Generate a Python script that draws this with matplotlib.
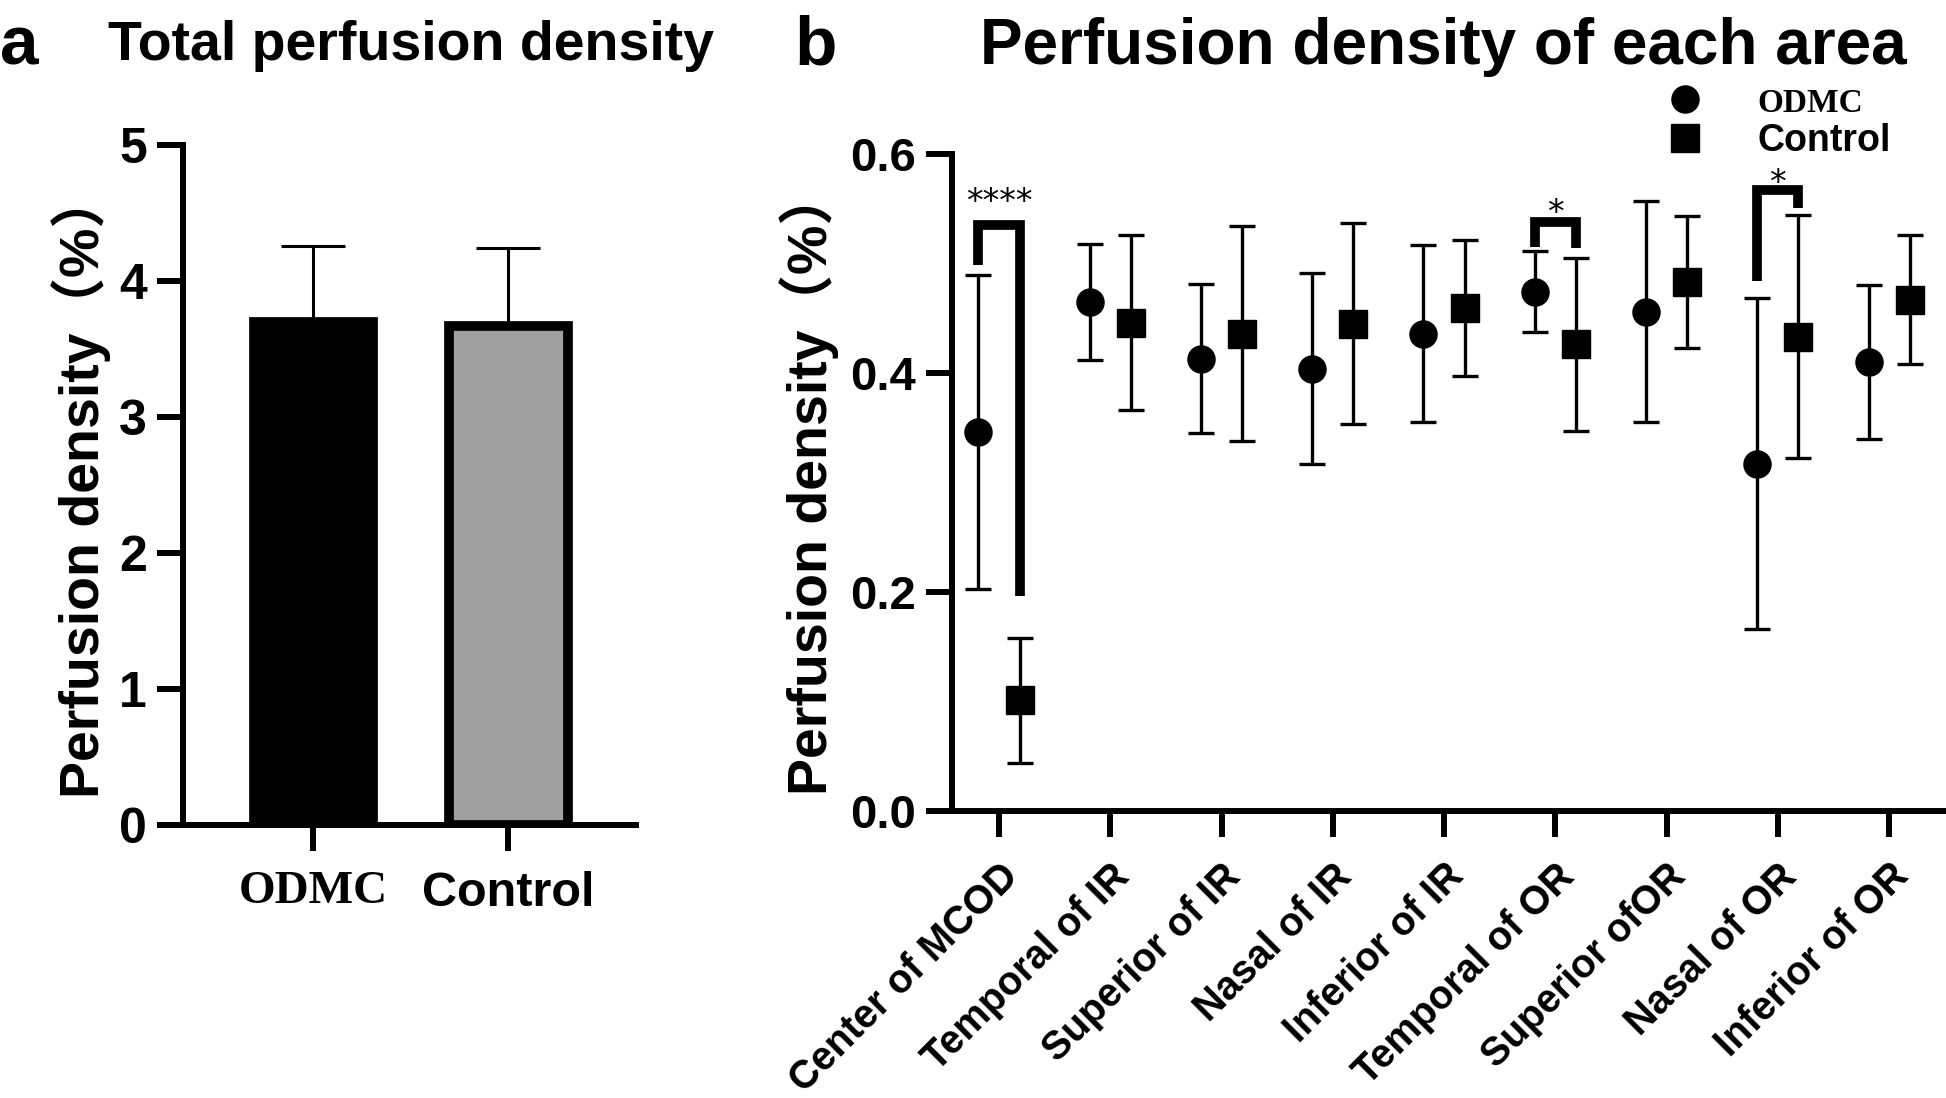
import numpy as np
import matplotlib
matplotlib.use('Agg')
import matplotlib.pyplot as plt
from matplotlib.lines import Line2D

plt.rcParams['font.family'] = ['Liberation Sans', 'Noto Sans CJK SC', 'DejaVu Sans']

# panel a: total perfusion density
groups = ['ODMC', 'Control']
total_mean = [3.70, 3.67]
total_sd = [0.56, 0.57]
bar_colors = ['#000000', '#a0a0a0']

# panel b: perfusion density of each area
areas = ['Center of MCOD', 'Temporal of IR', 'Superior of IR', 'Nasal of IR',
         'Inferior of IR', 'Temporal of OR', 'Superior ofOR', 'Nasal of OR',
         'Inferior of OR']
odmc_mean = [0.346, 0.465, 0.413, 0.404, 0.436, 0.474, 0.456, 0.317, 0.410]
odmc_sd = [0.143, 0.053, 0.068, 0.087, 0.081, 0.037, 0.101, 0.151, 0.070]
ctrl_mean = [0.101, 0.446, 0.436, 0.445, 0.459, 0.426, 0.483, 0.433, 0.467]
ctrl_sd = [0.057, 0.080, 0.098, 0.092, 0.062, 0.079, 0.060, 0.111, 0.059]

# significance brackets: area index, left foot, top, right foot, star height, label
sig_idx = [0, 5, 7]
sig_left = [0.499, 0.515, 0.484]
sig_top = [0.535, 0.538, 0.567]
sig_right = [0.196, 0.514, 0.551]
sig_star = [0.564, 0.554, 0.581]
sig_text = ['****', '*', '*']

fig = plt.figure(figsize=(19.46, 10.98), dpi=100)

# ---------- panel a ----------
ax1 = fig.add_axes([0.0940, 0.2486, 0.2328, 0.6193])
x = np.arange(len(groups))
ax1.errorbar(x, total_mean, yerr=[np.zeros(len(x)), total_sd], fmt='none',
             ecolor='k', elinewidth=2.2, capsize=23, capthick=2.2, zorder=1)
ax1.bar(x, total_mean, width=0.61, color=bar_colors, edgecolor='k',
        linewidth=7, zorder=2)
ax1.set_xlim(-0.669, 1.654)
ax1.set_ylim(0, 5)
ax1.set_yticks([0, 1, 2, 3, 4, 5])
ax1.set_xticks(x)
ax1.set_xticklabels(groups)
for sp in ['top', 'right']:
    ax1.spines[sp].set_visible(False)
for sp in ['left', 'bottom']:
    ax1.spines[sp].set_linewidth(4.3)
ax1.tick_params(axis='both', length=19, width=4.3)
ax1.tick_params(axis='y', pad=7)
ax1.tick_params(axis='x', pad=14)
for t in ax1.get_yticklabels():
    t.set_fontsize(36)
    t.set_fontweight('bold')
xl = ax1.get_xticklabels()
xl[0].set_fontfamily('Liberation Serif')
xl[0].set_fontsize(34)
xl[0].set_fontweight('bold')
xl[1].set_fontsize(35)
xl[1].set_fontweight('bold')
ax1.set_ylabel('Perfusion density（%）', fontsize=40, fontweight='bold', labelpad=6)
fig.text(0.0, 0.958, 'a', fontsize=50, fontweight='bold', va='center')
fig.text(0.211, 0.958, 'Total perfusion density', fontsize=40,
         fontweight='bold', ha='center', va='center')

# ---------- panel b ----------
ax2 = fig.add_axes([0.4892, 0.2614, 0.5098, 0.5984])
xb = np.arange(len(areas))
off = 0.185
ax2.errorbar(xb - off, odmc_mean, yerr=odmc_sd, fmt='o', color='k', ms=19.5,
             elinewidth=2.4, capsize=9.5, capthick=2.4,
             clip_on=False, zorder=3)
ax2.errorbar(xb + off, ctrl_mean, yerr=ctrl_sd, fmt='s', color='k', ms=20,
             elinewidth=2.4, capsize=9.5, capthick=2.4,
             clip_on=False, zorder=3)

for i, yl, yt, yr, ys, s in zip(sig_idx, sig_left, sig_top, sig_right,
                                sig_star, sig_text):
    ax2.plot([i - off, i - off, i + off, i + off], [yl, yt, yt, yr],
             color='k', lw=7, solid_joinstyle='miter', solid_capstyle='butt',
             clip_on=False, zorder=4)
    ax2.text(i, ys - 0.008, s, ha='center', va='center', fontsize=24,
             family='DejaVu Sans', clip_on=False)

ax2.set_xlim(-0.4225, 8.494)
ax2.set_ylim(0, 0.6)
ax2.set_yticks([0.0, 0.2, 0.4, 0.6])
ax2.set_yticklabels(['0.0', '0.2', '0.4', '0.6'])
ax2.set_xticks(xb)
ax2.set_xticklabels(areas, rotation=45, ha='right', va='top',
                    rotation_mode='anchor', fontsize=28.5, fontweight='bold')
for sp in ['top', 'right']:
    ax2.spines[sp].set_visible(False)
for sp in ['left', 'bottom']:
    ax2.spines[sp].set_linewidth(4.3)
ax2.tick_params(axis='both', length=19, width=4.3)
ax2.tick_params(axis='y', pad=7)
ax2.tick_params(axis='x', pad=14)
for t in ax2.get_yticklabels():
    t.set_fontsize(34)
    t.set_fontweight('bold')
ax2.set_ylabel('Perfusion density（%）', fontsize=40, fontweight='bold', labelpad=8)

handles = [Line2D([], [], marker='o', ls='none', color='k', ms=19.5),
           Line2D([], [], marker='s', ls='none', color='k', ms=20)]
leg = ax2.legend(handles, groups, loc='upper left',
                 bbox_to_anchor=(0.856, 0.922),
                 bbox_transform=fig.transFigure, frameon=False, fontsize=27,
                 handlelength=1.0, handletextpad=1.45, labelspacing=0.1,
                 borderpad=0, borderaxespad=0)
lt = leg.get_texts()
lt[0].set_fontfamily('Liberation Serif')
lt[0].set_fontweight('bold')
lt[0].set_fontsize(24)
lt[1].set_fontweight('bold')

fig.text(0.408, 0.958, 'b', fontsize=50, fontweight='bold', va='center')
fig.text(0.7415, 0.957, 'Perfusion density of each area', fontsize=46,
         fontweight='bold', ha='center', va='center')

fig.savefig('out.png', dpi=100)
